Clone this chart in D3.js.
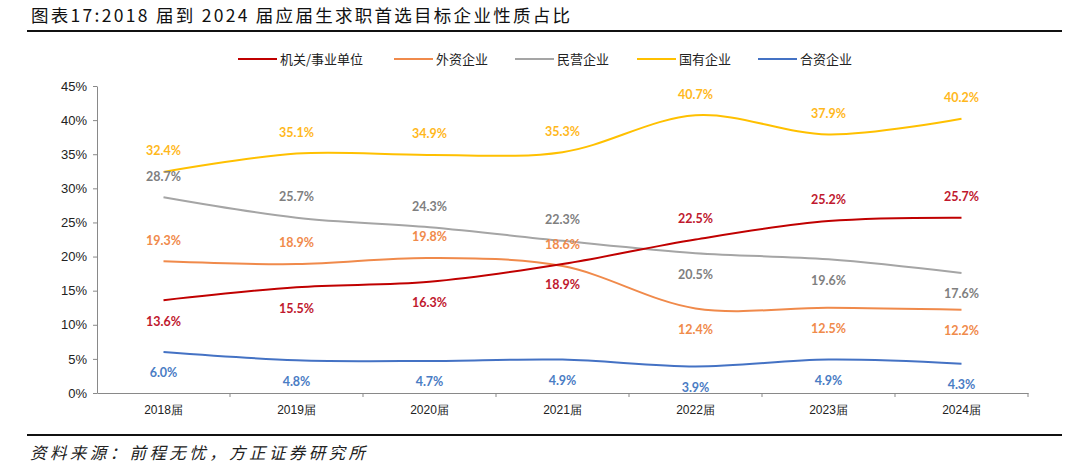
<!DOCTYPE html>
<html>
<head>
<meta charset="utf-8">
<script src="https://cdn.jsdelivr.net/npm/d3@7"></script>
<style>
  body { margin: 0; background: #fff; }
  svg { display: block; }
</style>
</head>
<body>
<div id="chart"></div>
<script>
// data
var years = ["2018届", "2019届", "2020届", "2021届", "2022届", "2023届", "2024届"];
var seriesNames = ["机关/事业单位", "外资企业", "民营企业", "国有企业", "合资企业"];
var govValues = [13.6, 15.5, 16.3, 18.9, 22.5, 25.2, 25.7];
var foreignValues = [19.3, 18.9, 19.8, 18.6, 12.4, 12.5, 12.2];
var privateValues = [28.7, 25.7, 24.3, 22.3, 20.5, 19.6, 17.6];
var stateValues = [32.4, 35.1, 34.9, 35.3, 40.7, 37.9, 40.2];
var jointValues = [6.0, 4.8, 4.7, 4.9, 3.9, 4.9, 4.3];
var yTicks = [0, 5, 10, 15, 20, 25, 30, 35, 40, 45];

var width = 1080, height = 467;
var margin = {top: 86, left: 97, right: 52, bottom: 75};

var svg = d3.select("#chart").append("svg")
    .attr("width", width)
    .attr("height", height);

// title + rules
svg.append("text")
    .attr("x", 31).attr("y", 22)
    .attr("textLength", 539)
    .attr("lengthAdjust", "spacing")
    .style("font-family", "'Noto Sans CJK SC'")
    .style("font-size", "17.5px")
    .style("fill", "#111")
    .text("图表17:2018 届到 2024 届应届生求职首选目标企业性质占比");

svg.append("line").attr("x1", 27).attr("x2", 1062).attr("y1", 31).attr("y2", 31)
    .style("stroke", "#111").style("stroke-width", 2);
svg.append("line").attr("x1", 27).attr("x2", 1062).attr("y1", 435).attr("y2", 435)
    .style("stroke", "#111").style("stroke-width", 2);

svg.append("text")
    .attr("x", 30).attr("y", 459)
    .attr("textLength", 335)
    .attr("lengthAdjust", "spacing")
    .style("font-family", "'Noto Sans CJK SC'")
    .style("font-size", "16.5px")
    .style("font-style", "italic")
    .style("fill", "#222")
    .text("资料来源：前程无忧，方正证券研究所");

var x = d3.scaleBand()
    .domain(years)
    .range([margin.left, 1028]);

var y = d3.scaleLinear()
    .domain([0, 45])
    .range([393, margin.top]);

// y axis
var yAxis = svg.append("g")
    .attr("transform", "translate(" + margin.left + ",0)")
    .call(d3.axisLeft(y).tickValues(yTicks).tickSize(4).tickSizeOuter(0).tickFormat(function(d) { return d + "%"; }));
yAxis.select(".domain").style("stroke", "#898989");
yAxis.selectAll(".tick line").style("stroke", "#898989");
yAxis.selectAll("text")
    .style("font-family", "'Liberation Sans', Arial")
    .style("font-size", "13px")
    .style("fill", "#222")
    .attr("x", -10);

// x axis
var xAxis = svg.append("g")
    .attr("transform", "translate(0,393)")
    .call(d3.axisBottom(x).tickSize(0).tickSizeOuter(0));
xAxis.select(".domain").style("stroke", "#898989");
xAxis.selectAll("text")
    .style("font-family", "'Liberation Sans', Arial")
    .style("font-size", "12px")
    .style("fill", "#222")
    .attr("dy", "0.71em")
    .attr("y", 12);

// category boundary ticks
var bounds = years.slice(1).map(function(d) { return x(d); }).concat([x.range()[1]]);
svg.selectAll(".xsep")
    .data(bounds)
    .enter().append("line")
    .attr("class", "xsep")
    .attr("x1", function(d) { return d; })
    .attr("x2", function(d) { return d; })
    .attr("y1", 393).attr("y2", 397)
    .style("stroke", "#898989");

var series = [
  {name: seriesNames[0], values: govValues, color: "#C00000", label: "#C0182E", pos: [1, 1, 1, 1, -1, -1, -1]},
  {name: seriesNames[1], values: foreignValues, color: "#F08A4B", label: "#F08A4B", pos: [-1, -1, -1, -1, 1, 1, 1]},
  {name: seriesNames[2], values: privateValues, color: "#A5A5A5", label: "#7F7F7F", pos: [-1, -1, -1, -1, 1, 1, 1]},
  {name: seriesNames[3], values: stateValues, color: "#FFC000", label: "#FFB81C", pos: [-1, -1, -1, -1, -1, -1, -1]},
  {name: seriesNames[4], values: jointValues, color: "#4472C4", label: "#4A7CC4", pos: [1, 1, 1, 1, 1, 1, 1]}
];

var line = d3.line()
    .x(function(d, i) { return x(years[i]) + x.bandwidth() / 2; })
    .y(function(d) { return y(d); })
    .curve(d3.curveCatmullRom.alpha(0.5));

// draw order: joint, state, private, foreign, gov on top
var drawOrder = [4, 3, 2, 1, 0];
drawOrder.forEach(function(k) {
  var s = series[k];
  svg.append("path")
      .datum(s.values)
      .attr("d", line)
      .style("fill", "none")
      .style("stroke", s.color)
      .style("stroke-width", 2);
});

series.forEach(function(s) {
  svg.selectAll(null)
      .data(s.values)
      .enter().append("text")
      .attr("x", function(d, i) { return x(years[i]) + x.bandwidth() / 2; })
      .attr("y", function(d, i) { return y(d) + s.pos[i] * 21; })
      .attr("dy", "0.35em")
      .attr("text-anchor", "middle")
      .style("font-family", "Lato, 'Open Sans', sans-serif")
      .style("font-weight", "bold")
      .style("font-size", "12.5px")
      .style("fill", s.label)
      .text(function(d) { return d.toFixed(1) + "%"; });
});

// legend
var legendX = [238, 394, 515, 637, 758];
var legend = svg.selectAll(".legend")
    .data(series)
    .enter().append("g")
    .attr("class", "legend")
    .attr("transform", function(d, i) { return "translate(" + legendX[i] + ",59)"; });
legend.append("line")
    .attr("x1", 0).attr("x2", 39)
    .style("stroke", function(d) { return d.color; })
    .style("stroke-width", 2);
legend.append("text")
    .attr("x", 42).attr("dy", "0.35em")
    .style("font-family", "'Noto Sans CJK SC'")
    .style("font-size", "13px")
    .style("fill", "#222")
    .text(function(d) { return d.name; });
</script>
</body>
</html>
